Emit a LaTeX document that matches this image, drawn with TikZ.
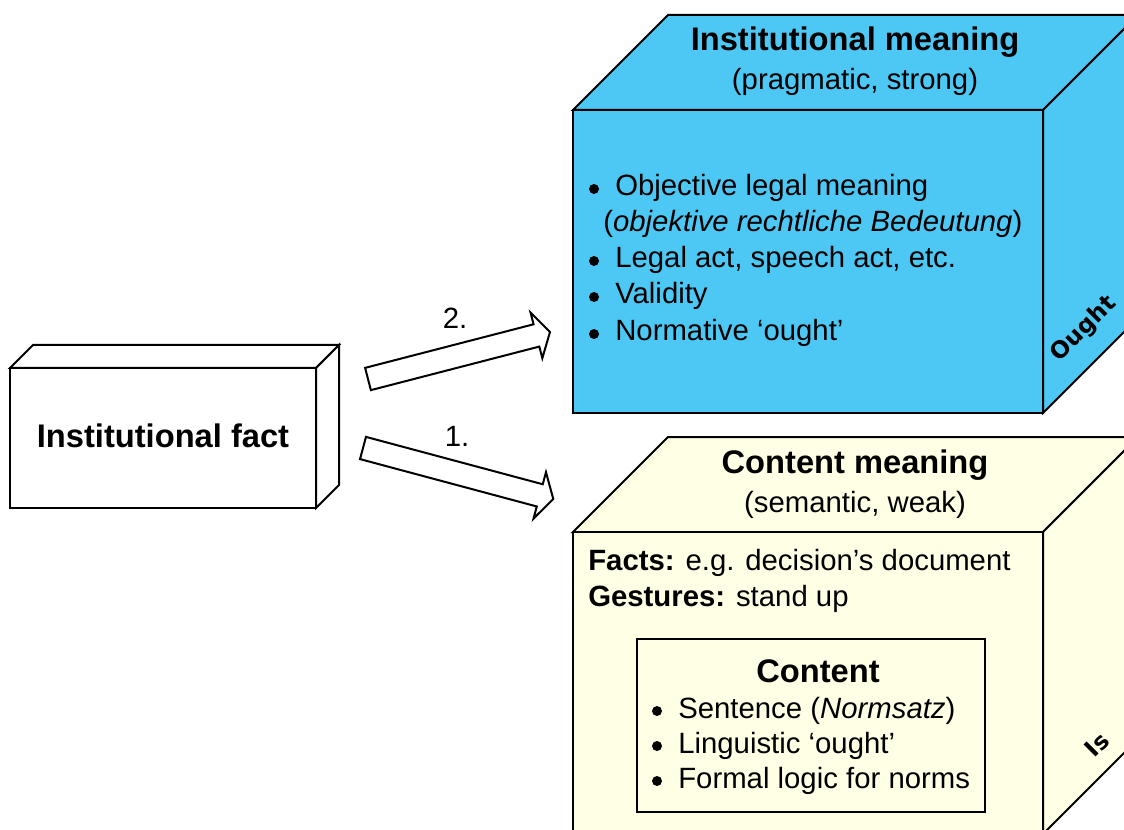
\documentclass[tikz,border=0pt]{standalone}
\usepackage{fontspec}
\setmainfont{Liberation Sans}
\newfontfamily\dejavu{DejaVu Sans}
\definecolor{cubeblue}{RGB}{77,199,243}
\definecolor{cubeyellow}{RGB}{255,255,230}
\tikzset{
  edge/.style={draw=black, line width=1.5pt, line join=miter},
  reg/.style={font=\fontsize{22}{27}\selectfont, inner sep=0pt},
  ttl/.style={font=\fontsize{24.5}{29}\selectfont\bfseries, inner sep=0pt},
  bul/.style={circle, fill=black, inner sep=0pt, minimum size=7.5pt},
  blockarrow/.style={draw=black, line width=1.5pt, fill=white, line join=miter},
  sidelabel/.style={font=\dejavu\bfseries\fontsize{17.5}{20}\selectfont, rotate=45, inner sep=0pt},
}
\begin{document}
\begin{tikzpicture}[x=0.75pt,y=-0.75pt]
\useasboundingbox (0,0) rectangle (1124,830);
\clip (0,0) rectangle (1124,830);

% ---------- top cube (Institutional meaning) ----------
\filldraw[edge, fill=cubeblue] (573,110) -- (668,15) -- (1138,15) -- (1043,110) -- cycle;
\filldraw[edge, fill=cubeblue] (1043,110) -- (1138,15) -- (1138,318) -- (1043,413) -- cycle;
\filldraw[edge, fill=cubeblue] (573,110) rectangle (1043,413);

\node[ttl, anchor=base] (imtitle) at (855,51) {Institutional meaning};
\node[reg, anchor=base] (imsub) at (855,90) {(pragmatic, strong)};

\node[bul] (b1) at (594,189) {};
\node[reg, anchor=base west] (t1) at (615,196) {Objective legal meaning};
\node[reg, anchor=base west] (t1b) at (603,232) {(\textit{objektive rechtliche Bedeutung})};
\node[bul] (b2) at (594,261) {};
\node[reg, anchor=base west] (t2) at (615,268) {Legal act, speech act, etc.};
\node[bul] (b3) at (594,297) {};
\node[reg, anchor=base west] (t3) at (615,304) {Validity};
\node[bul] (b4) at (594,334) {};
\node[reg, anchor=base west] (t4) at (615,341) {Normative ‘ought’};

\node[sidelabel] (ought) at (1084,329) {Ought};

% ---------- bottom cube (Content meaning) ----------
\filldraw[edge, fill=cubeyellow] (573,532) -- (668,437) -- (1138,437) -- (1043,532) -- cycle;
\filldraw[edge, fill=cubeyellow] (1043,532) -- (1138,437) -- (1138,739) -- (1043,834) -- cycle;
\filldraw[edge, fill=cubeyellow] (573,532) rectangle (1043,834);

\node[ttl, anchor=base] (cmtitle) at (855,473) {Content meaning};
\node[reg, anchor=base] (cmsub) at (855,512) {(semantic, weak)};

\node[reg, anchor=base west] (facts) at (588,570) {\textbf{Facts:} e.g. decision’s document};
\node[reg, anchor=base west] (gest) at (588,606) {\textbf{Gestures:} stand up};

\draw[edge, line width=1.3pt] (637,639) rectangle (985,812);
\node[ttl, anchor=base] (ctitle) at (818,682) {Content};
\node[bul] (c1b) at (657,711) {};
\node[reg, anchor=base west] (c1) at (678,718) {Sentence (\textit{Normsatz})};
\node[bul] (c2b) at (657,746) {};
\node[reg, anchor=base west] (c2) at (678,753) {Linguistic ‘ought’};
\node[bul] (c3b) at (657,781) {};
\node[reg, anchor=base west] (c3) at (678,788) {Formal logic for norms};

\node[sidelabel] (is) at (1097,745) {Is};

% ---------- left box (Institutional fact) ----------
\filldraw[edge, fill=white] (10,368) -- (33,345) -- (339,345) -- (316,368) -- cycle;
\filldraw[edge, fill=white] (316,368) -- (339,345) -- (339,485) -- (316,508) -- cycle;
\filldraw[edge, fill=white] (10,368) rectangle (316,508);
\node[ttl, anchor=base] (fact) at (163,447) {Institutional fact};

% ---------- block arrows ----------
\coordinate (a2tail) at (368,379);
\begin{scope}[shift={(a2tail)}, rotate=14.5]
  \draw[blockarrow] (0,-11.5) -- (174,-11.5) -- (174,-23.5) -- (188,0)
     -- (174,23.5) -- (174,11.5) -- (0,11.5) -- cycle;
\end{scope}
\node[reg, anchor=base] (l2) at (455,329) {2.};

\coordinate (a1tail) at (363,448);
\begin{scope}[shift={(a1tail)}, rotate=-15]
  \draw[blockarrow] (0,-11.5) -- (183,-11.5) -- (183,-24) -- (197,0)
     -- (183,24) -- (183,11.5) -- (0,11.5) -- cycle;
\end{scope}
\node[reg, anchor=base] (l1) at (457,446) {1.};
\end{tikzpicture}
\end{document}
